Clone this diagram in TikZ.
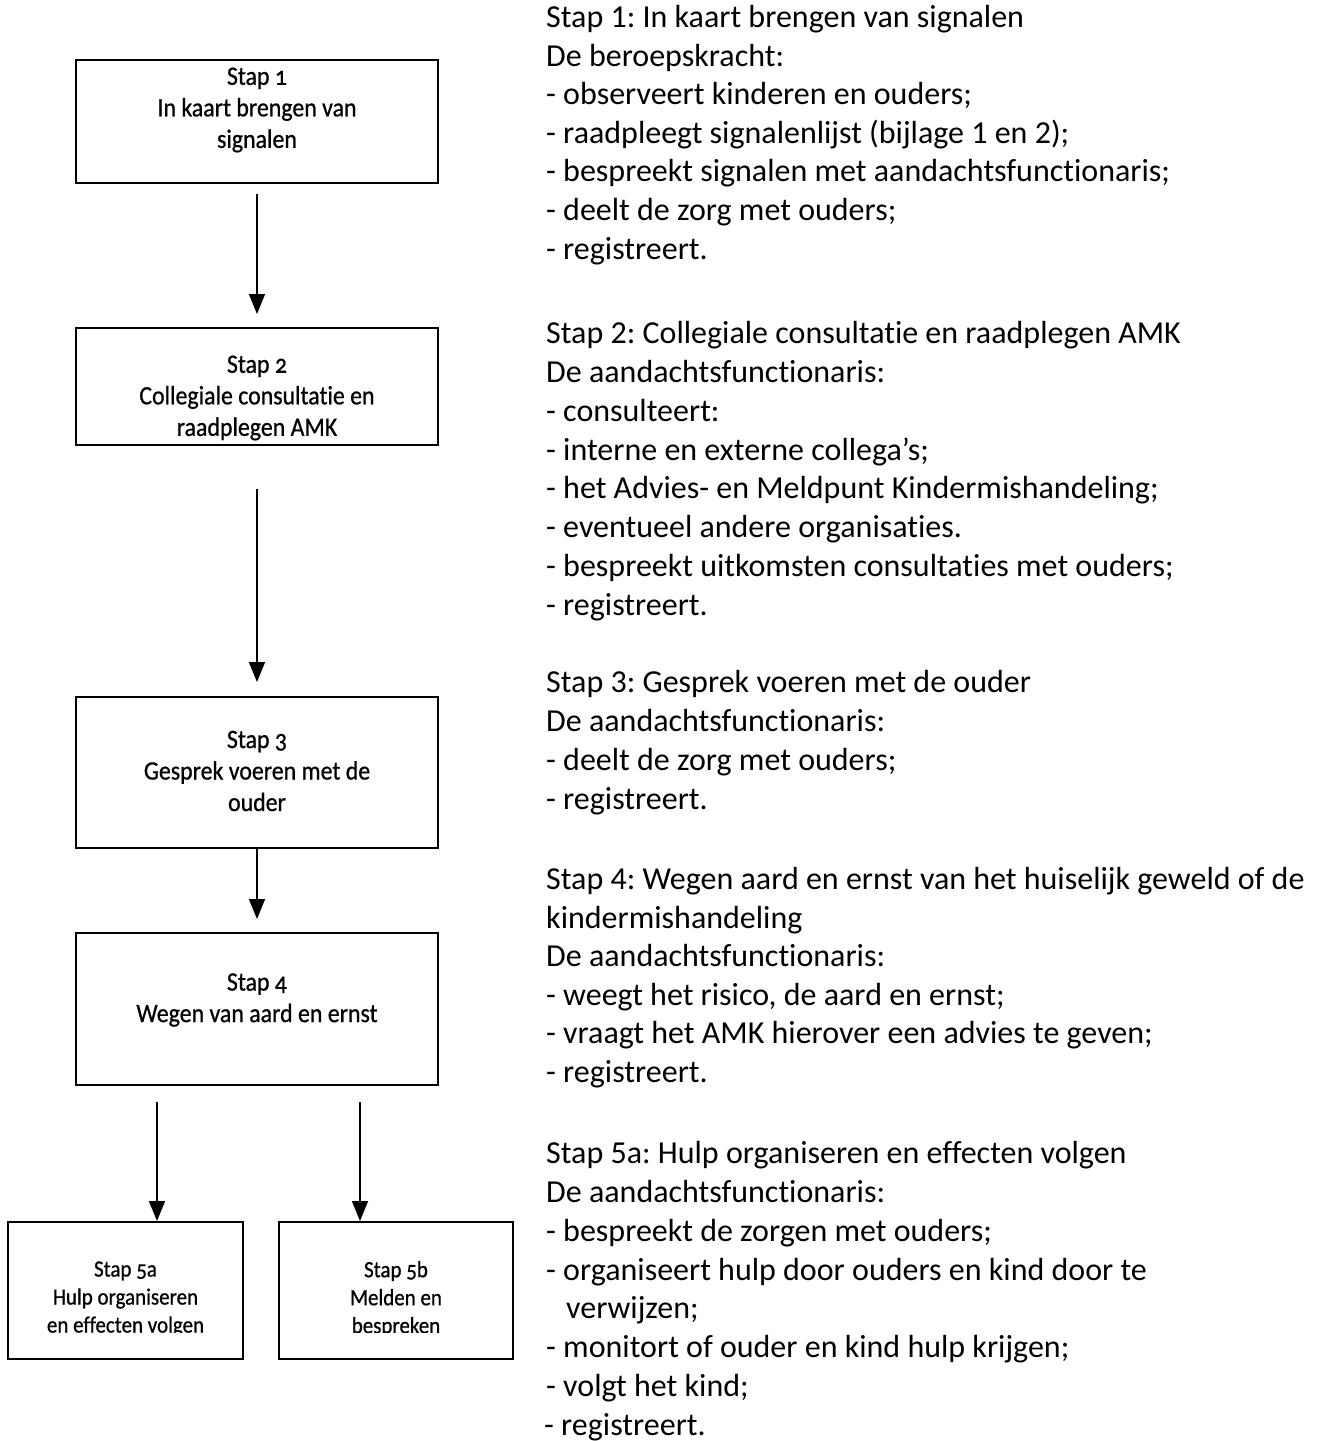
\documentclass[tikz,border=0pt]{standalone}
\usepackage{fontspec}
\setmainfont{Carlito}[Ligatures=NoCommon, RawFeature={-calt}]
\newfontfamily\boxfont[Numbers=OldStyle, FakeStretch=0.9, FakeBold=0.7, Ligatures=NoCommon, RawFeature={-calt}]{Carlito}
\usetikzlibrary{arrows.meta}
\frenchspacing
\begin{document}
\begin{tikzpicture}[x=1pt,y=-1pt,
  stepbox/.style={draw, line width=2pt, inner sep=0pt, minimum width=362pt},
  boxtext/.style={font=\boxfont\fontsize{26.5}{31.5}\selectfont, align=center, inner sep=0pt},
  smalltext/.style={font=\boxfont\fontsize{23.3}{28}\selectfont, align=center, inner sep=0pt},
  arr/.style={line width=1.5pt, -{Triangle[width=16pt,length=20pt]}},
  rt/.style={font=\fontsize{32}{39}\selectfont, anchor=base west, inner sep=0pt}]
\useasboundingbox (0,0) rectangle (1318,1441);
\fill[white] (0,0) rectangle (1318,1441);

% boxes
\node[stepbox, minimum height=123pt] (b1) at (257,121.5) {};
\node[stepbox, minimum height=117pt] (b2) at (257,386.5) {};
\node[stepbox, minimum height=151pt] (b3) at (257,772.5) {};
\node[stepbox, minimum height=152pt] (b4) at (257,1009) {};
\node[stepbox, minimum width=235pt, minimum height=137pt] (b5a) at (125.5,1290.5) {};
\node[stepbox, minimum width=234pt, minimum height=137pt] (b5b) at (396,1290.5) {};

% box texts
\node[boxtext] (t1) at (257,110) {Stap 1\\In kaart brengen van\\signalen};
\node[boxtext] (t2) at (257,398) {Stap 2\\Collegiale consultatie en\\raadplegen AMK};
\node[boxtext] (t3) at (257,771) {Stap 3\\Gesprek voeren met de\\ouder};
\node[boxtext] (t4) at (257,1000) {Stap 4\\Wegen van aard en ernst};
\begin{scope}
  \clip (0,1223) rectangle (520,1332);
  \node[smalltext] (t5a) at (125.5,1299) {Stap 5a\\Hulp organiseren\\en effecten volgen};
  \node[smalltext] (t5b) at (396,1299) {Stap 5b\\Melden en\\bespreken};
\end{scope}

% arrows
\draw[arr, shorten <=10pt, shorten >=13pt] (b1) -- (b2);
\draw[arr, shorten <=43pt, shorten >=14pt] (b2) -- (b3);
\draw[arr, shorten >=13pt] (b3) -- (b4);
\coordinate (s4a) at (157,1102);
\coordinate (s4b) at (360,1102);
\draw[arr] (s4a) -- (s4a |- b5a.north);
\draw[arr] (s4b) -- (s4b |- b5b.north);

% right-hand text
\node[rt] (r1) at (546,27.5) {Stap 1: In kaart brengen van signalen};
\node[rt] (r2) at (546,66.1) {De beroepskracht:};
\node[rt] (r3) at (546,104.7) {- observeert kinderen en ouders;};
\node[rt] (r4) at (546,143.3) {- raadpleegt signalenlijst (bijlage 1 en 2);};
\node[rt] (r5) at (546,181.9) {- bespreekt signalen met aandachtsfunctionaris;};
\node[rt] (r6) at (546,220.5) {- deelt de zorg met ouders;};
\node[rt] (r7) at (546,259.1) {- registreert.};

\node[rt] (r8) at (546,343.5) {Stap 2: Collegiale consultatie en raadplegen AMK};
\node[rt] (r9) at (546,382.4) {De aandachtsfunctionaris:};
\node[rt] (r10) at (546,421.2) {- consulteert:};
\node[rt] (r11) at (546,460.1) {- interne en externe collega’s;};
\node[rt] (r12) at (546,498.9) {- het Advies- en Meldpunt Kindermishandeling;};
\node[rt] (r13) at (546,537.8) {- eventueel andere organisaties.};
\node[rt] (r14) at (546,576.7) {- bespreekt uitkomsten consultaties met ouders;};
\node[rt] (r15) at (546,615.5) {- registreert.};

\node[rt] (r16) at (546,692.5) {Stap 3: Gesprek voeren met de ouder};
\node[rt] (r17) at (546,731.5) {De aandachtsfunctionaris:};
\node[rt] (r18) at (546,770.5) {- deelt de zorg met ouders;};
\node[rt] (r19) at (546,809.5) {- registreert.};

\node[rt] (r20) at (546,889.5) {Stap 4: Wegen aard en ernst van het huiselijk geweld of de};
\node[rt] (r21) at (546,928.1) {kindermishandeling};
\node[rt] (r22) at (546,966.7) {De aandachtsfunctionaris:};
\node[rt] (r23) at (546,1005.3) {- weegt het risico, de aard en ernst;};
\node[rt] (r24) at (546,1043.9) {- vraagt het AMK hierover een advies te geven;};
\node[rt] (r25) at (546,1082.5) {- registreert.};

\node[rt] (r26) at (546,1163.5) {Stap 5a: Hulp organiseren en effecten volgen};
\node[rt] (r27) at (546,1202.4) {De aandachtsfunctionaris:};
\node[rt] (r28) at (546,1241.2) {- bespreekt de zorgen met ouders;};
\node[rt] (r29) at (546,1280.1) {- organiseert hulp door ouders en kind door te};
\node[rt] (r30) at (566,1318.9) {verwijzen;};
\node[rt] (r31) at (546,1357.8) {- monitort of ouder en kind hulp krijgen;};
\node[rt] (r32) at (546,1396.7) {- volgt het kind;};
\node[rt] (r33) at (544,1435.5) {- registreert.};
\end{tikzpicture}
\end{document}
